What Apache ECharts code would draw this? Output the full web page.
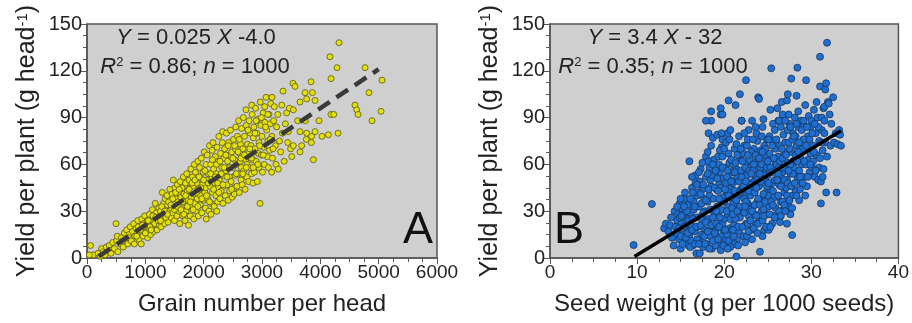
<!DOCTYPE html>
<html>
<head>
<meta charset="utf-8">
<script src="https://cdn.jsdelivr.net/npm/echarts@6/dist/echarts.min.js"></script>
<style>
  html, body { margin: 0; padding: 0; background: #fff; }
  #main { width: 912px; height: 323px; }
</style>
</head>
<body>
<div id="main"></div>
<script>
// panel A: grain number per head vs yield per plant
const grainYield = [
  [110,2],[60,8],[40,2],[190,3],[230,1],[250,6],[280,4],[330,7],[310,2],
  [380,8],[420,5],[440,10],[410,3],[470,6],[497,22],[510,11],[530,4],[520,14],
  [570,9],[590,13],[620,7],[640,16],[610,11],[660,12],[680,18],[700,9],[720,15],[740,20],[710,13],
  [760,11],[780,17],[800,22],[820,14],[840,19],[810,9],
  [860,16],[870,24],[890,12],[910,20],[930,9],[940,25],[920,18],
  [960,14],[970,22],[990,27],[1010,17],[1030,24],[1040,13],[1020,20],
  [1060,19],[1070,28],[1090,15],[1110,24],[1120,31],[1130,21],[1140,17],[1150,26],
  [1160,22],[1170,35],[1190,29],[1200,18],[1210,25],[1230,32],[1240,21],[1250,27],
  [1260,30],[1270,20],[1290,42],[1300,25],[1310,35],[1320,28],[1330,22],[1340,38],[1350,31],
  [1360,27],[1370,40],[1380,34],[1390,23],[1410,30],[1420,44],[1430,37],[1440,26],[1450,32],
  [1460,41],[1470,29],[1480,50],[1490,35],[1500,24],[1510,45],[1520,38],[1530,31],[1540,27],[1550,47],
  [1560,36],[1570,42],[1580,30],[1590,22],[1600,49],[1610,39],[1620,33],[1630,45],[1640,27],[1650,52],
  [1660,41],[1670,35],[1680,24],[1690,48],[1700,30],[1710,54],[1720,43],[1730,37],[1740,21],[1750,50],[1745,33],
  [1760,45],[1770,27],[1780,57],[1790,39],[1800,33],[1810,52],[1820,46],[1830,25],[1840,60],[1850,41],[1845,35],
  [1860,55],[1870,30],[1880,48],[1890,38],[1900,62],[1910,27],[1920,44],[1930,58],[1940,34],[1950,51],[1945,40],
  [1960,64],[1970,29],[1980,47],[1990,55],[2000,37],[2010,68],[2020,42],[2030,32],[2040,60],[2050,50],[2045,25],[2035,45],
  [2060,66],[2070,38],[2080,54],[2090,30],[2100,72],[2110,46],[2120,60],[2130,35],[2140,52],[2150,42],[2145,69],[2125,28],
  [2160,74],[2170,57],[2180,33],[2190,48],[2200,65],[2210,40],[2220,54],[2230,71],[2240,36],[2250,62],[2245,45],[2225,30],
  [2260,78],[2270,50],[2280,38],[2290,67],[2300,43],[2310,58],[2320,74],[2330,35],[2340,53],[2350,64],[2345,46],[2325,81],
  [2360,70],[2370,40],[2380,56],[2390,80],[2400,47],[2410,62],[2420,37],[2430,74],[2440,52],[2450,66],[2445,43],[2425,58],
  [2460,82],[2470,49],[2480,68],[2490,39],[2500,58],[2510,76],[2520,45],[2530,63],[2540,53],[2550,84],[2545,70],[2525,41],
  [2560,60],[2570,46],[2580,78],[2590,54],[2600,88],[2610,42],[2620,67],[2630,73],[2640,50],[2650,83],[2645,58],[2625,62],
  [2660,47],[2670,70],[2680,90],[2690,56],[2700,78],[2710,44],[2720,63],[2730,85],[2740,52],[2750,73],[2745,60],[2725,95],
  [2760,67],[2770,49],[2780,88],[2790,58],[2800,80],[2810,72],[2820,54],[2830,92],[2840,63],[2850,77],[2845,48],[2825,98],
  [2860,84],[2870,55],[2880,70],[2890,96],[2900,62],[2910,80],[2920,49],[2930,89],[2940,67],[2950,74],[2945,58],[2966,35],
  [2970,100],[2980,85],[2990,66],[3000,78],[3010,55],[3020,93],[3030,71],[3040,60],[3050,87],[3045,97],
  [3070,103],[3080,82],[3090,65],[3100,75],[3110,58],[3120,92],[3130,69],[3140,86],[3150,99],
  [3166,55],[3170,78],[3180,64],[3200,88],[3210,97],[3230,72],[3240,60],[3250,84],[3171,103],
  [3270,92],[3280,57],[3300,75],[3320,68],[3340,98],[3350,80],[3360,107],
  [3380,62],[3400,86],[3423,93],[3440,74],[3451,81],[3470,96],[3490,70],
  [3509,65],[3537,72],[3537,95],[3531,112],[3566,110],[3611,88],[3651,100],[3651,81],[3651,68],
  [3680,72],[3737,106],[3743,88],[3760,76],[3766,102],[3766,80],[3846,74],[3840,113],[3851,78],
  [3863,106],[3880,63],[3909,101],[3909,81],[3977,88],[4029,78],[4137,79],[4166,129],[4183,115],
  [4183,92],[4230,92],[4286,122],[4303,80],[4320,138],[4594,98],[4623,95],[4646,92],[4766,122],
  [4834,106],[4886,88],[5040,94],[5057,114],
  [850,14],[880,20],[950,21],[1000,16],[1050,24],[1080,20],[1100,18],[1130,27],[1180,26],[1220,24],
  [1260,24],[1280,33],[1330,30],[1350,26],[1380,28],[1400,36],[1440,34],[1470,38],[1500,31],[1520,42],
  [1550,33],[1580,44],[1610,31],[1640,36],[1660,28],[1690,40],[1720,33],[1750,44],[1770,36],[1800,48],
  [1820,31],[1850,50],[1880,42],[1900,33],[1920,52],[1950,45],[1970,38],[2000,50],[2020,56],[2050,40],
  [2080,48],[2100,36],[2120,54],[2150,63],[2170,44],[2200,52],[2220,60],[2240,48],[2260,42],[2280,62],
  [2300,54],[2330,47],[2350,58],[2380,66],[2400,52],[2420,72],[2450,58],[2480,44],[2500,64],[2530,72],
  [2560,54],[2590,68],[2610,76],[2640,64],[2670,54],[2700,66],[2730,58],[2760,82],[2790,70],[2820,64],
  [2850,58],[2880,80],[2900,88],[2930,60],[2960,72],[2990,90],[3020,66],[3060,84],[3100,92],[3140,76],[3190,70]
];

// panel B: seed weight vs yield per plant
const seedYield = [
  [9.6,8.3],[11.7,34.6],[13.1,19],[13.3,22],[13.6,17],[13.9,26],[14.0,13],[13.8,21],
  [14.2,8],[14.3,30],[14.5,16],[14.6,24],[14.8,12],[14.9,35],[14.4,20],[14.7,28],
  [15.0,6],[15.1,22],[15.2,31],[15.3,15],[15.4,38],[15.5,10],[15.6,26],[15.7,19],[15.8,34],[15.9,8],[15.5,42],[15.3,28],
  [16.0,62],[16.0,14],[16.1,29],[16.2,21],[16.3,45],[16.4,8],[16.5,36],[16.6,17],[16.7,53],[16.8,3],[16.8,26],[16.9,40],[16.5,31],[16.2,11],[16.7,48],
  [17.0,20],[17.1,33],[17.2,12],[17.3,57],[17.4,27],[17.5,44],[17.6,7],[17.7,38],[17.8,18],[17.9,65],[17.2,49],[17.5,24],[17.8,30],[17.4,15],[17.9,52],[17.0,42],
  [18.0,9],[18.1,36],[18.2,80],[18.2,25],[18.3,58],[18.4,14],[18.5,46],[18.5,88],[18.6,31],[18.7,77],[18.8,20],[18.9,54],[18.3,40],[18.6,6],[18.9,28],[18.1,68],[18.4,50],[18.8,63],
  [19.0,17],[19.1,44],[19.2,79],[19.3,29],[19.4,60],[19.5,10],[19.6,37],[19.6,92],[19.7,71],[19.8,22],[19.9,51],[19.2,33],[19.5,55],[19.8,76],[19.0,8],[19.3,65],[19.7,14],[19.4,47],[19.9,39],
  [20.0,25],[20.1,58],[20.5,101],[20.2,12],[20.3,42],[20.4,80],[20.5,33],[20.5,67],[20.6,19],[20.7,50],[20.8,9],[20.9,38],[20.2,74],[20.4,28],[20.6,61],[20.8,45],[20.3,15],[20.9,55],[20.0,36],[20.7,82],
  [21.0,48],[21.1,21],[21.2,70],[21.3,98],[21.3,31],[21.4,57],[21.4,1],[21.5,12],[21.6,40],[21.7,78],[21.8,105],[21.8,26],[21.9,63],[21.1,35],[21.5,52],[21.7,17],[21.9,44],[21.2,9],[21.6,66],[21.0,60],
  [22.0,88],[22.0,30],[22.1,55],[22.2,14],[22.3,72],[22.4,41],[22.5,114],[22.5,22],[22.6,61],[22.7,35],[22.8,82],[22.9,48],[22.2,67],[22.4,10],[22.6,53],[22.8,27],[22.1,44],[22.9,63],[22.3,38],[22.7,76],
  [23.0,58],[23.1,18],[23.2,88],[23.3,44],[23.4,70],[23.5,28],[23.6,52],[23.7,80],[23.8,36],[23.9,64],[23.9,103],[23.2,12],[23.4,49],[23.6,22],[23.8,75],[23.0,40],[23.5,61],[23.3,33],[23.7,57],[23.1,68],
  [24.0,102],[24.0,46],[24.1,24],[24.1,4],[24.2,69],[24.3,37],[24.4,84],[24.5,55],[24.6,18],[24.7,63],[24.8,42],[24.9,76],[24.3,30],[24.5,89],[24.7,50],[24.9,28],[24.2,58],[24.6,72],[24.4,14],[24.8,66],
  [25.0,53],[25.1,33],[25.2,78],[25.3,44],[25.4,121.6],[25.4,64],[25.5,22],[25.6,86],[25.7,57],[25.8,39],[25.9,70],[25.1,18],[25.3,95],[25.5,48],[25.7,27],[25.9,61],[25.2,67],[25.6,74],[25.0,40],[25.8,82],
  [26.0,60],[26.1,26],[26.2,88],[26.3,47],[26.4,72],[26.5,36],[26.6,100],[26.7,55],[26.8,79],[26.9,42],[26.2,65],[26.4,23],[26.6,51],[26.8,31],[26.1,96],[26.5,84],[26.9,68],[26.3,58],[26.7,92],
  [27.0,74],[27.1,45],[27.2,101],[27.3,61],[27.3,105],[27.4,33],[27.5,86],[27.6,54],[27.7,115],[27.7,68],[27.8,40],[27.8,14.7],[27.9,80],[27.2,50],[27.4,92],[27.6,28],[27.9,62],[27.1,57],[27.5,70],[27.3,82],
  [28.0,58],[28.1,90],[28.2,43],[28.3,104],[28.3,72],[28.4,122],[28.4,52],[28.5,84],[28.6,37],[28.7,65],[28.8,88],[28.9,48],[28.2,78],[28.6,56],[28.8,70],[28.5,94],[28.1,63],[28.9,60],
  [29.0,70],[29.1,52],[29.2,85],[29.3,98],[29.4,114],[29.4,60],[29.5,46],[29.6,78],[29.7,91],[29.8,55],[29.9,67],[29.3,40],[29.6,63],[29.9,84],[29.1,76],
  [30.0,88],[30.1,58],[30.2,72],[30.3,95],[30.4,52],[30.5,80],[30.6,66],[30.7,90],[30.8,50],[30.9,75],[30.2,62],[30.6,100],[30.9,58],
  [31.0,129],[31.0,110],[31.1,49],[31.1,35],[31.2,82],[31.3,69],[31.4,96],[31.5,97],[31.6,108],[31.7,42],[31.7,112],[31.8,138],[31.9,100],[31.4,57],[31.6,74],[31.2,90],[31.8,65],[31.5,88],
  [32.0,99],[32.2,72],[32.5,103],[32.6,74],[32.8,80],[32.9,42],[32.3,86],[33.0,73],[33.2,82],[33.4,72],[33.3,79],
  [17.9,88],[18.5,94],[19.6,96],[19.8,92],[22.0,88],
  [14.6,33],[14.8,19],[14.9,26],[15.0,14],[15.0,38],
  [15.2,9],[15.4,20],[15.6,13],[15.7,30],[15.9,24],[15.8,16],[15.4,33],[15.1,27],
  [16.1,7],[16.3,18],[16.4,25],[16.6,33],[16.9,12],[16.1,38],[16.4,42],[16.8,20],[16.9,47],[16.3,52],[16.6,9],
  [17.1,9],[17.3,21],[17.4,35],[17.6,29],[17.7,14],[17.9,23],[17.3,41],[17.6,47],[17.8,9],[17.1,55],[17.5,61],[17.9,37],[17.2,3],
  [18.1,17],[18.2,44],[18.4,31],[18.5,21],[18.7,11],[18.8,38],[18.9,45],[18.3,6],[18.6,53],[18.7,26],[18.2,62],[18.5,72],[18.9,16],[18.1,54],[18.7,60],
  [19.1,22],[19.2,51],[19.3,12],[19.4,38],[19.5,26],[19.6,45],[19.7,31],[19.8,58],[19.9,18],[19.0,56],[19.3,43],[19.5,69],[19.6,5],[19.8,65],[19.1,30],[19.9,8],[19.4,20],[19.7,80],
  [20.1,18],[20.2,48],[20.3,30],[20.4,56],[20.5,11],[20.6,42],[20.7,25],[20.8,63],[20.9,18],[20.0,70],[20.3,52],[20.5,40],[20.7,7],[20.9,32],[20.1,44],[20.6,76],[20.4,6],[20.8,49],
  [21.1,14],[21.2,43],[21.3,25],[21.4,37],[21.5,66],[21.6,20],[21.7,49],[21.8,33],[21.9,56],[21.0,28],[21.2,55],[21.4,73],[21.6,8],[21.8,42],[21.0,18],[21.5,30],[21.9,70],[21.3,61],
  [22.1,20],[22.2,46],[22.3,29],[22.4,58],[22.5,36],[22.6,14],[22.7,66],[22.8,43],[22.9,31],[22.0,52],[22.3,80],[22.5,49],[22.7,22],[22.9,56],[22.1,62],[22.4,33],[22.6,72],[22.8,17],
  [23.1,47],[23.2,30],[23.3,56],[23.4,19],[23.5,42],[23.6,66],[23.7,27],[23.8,50],[23.9,38],[23.0,24],[23.3,76],[23.5,34],[23.7,45],[23.9,22],[23.1,54],[23.6,84],[23.4,60],[23.8,16],
  [24.1,34],[24.2,49],[24.3,60],[24.4,24],[24.5,41],[24.6,53],[24.7,36],[24.8,20],[24.9,58],[24.0,64],[24.3,78],[24.5,31],[24.7,70],[24.9,46],[24.1,54],[24.6,27],[24.4,68],
  [25.1,48],[25.2,28],[25.3,58],[25.4,36],[25.5,72],[25.6,43],[25.7,64],[25.8,50],[25.9,32],[25.0,62],[25.3,20],[25.5,55],[25.8,26],[25.1,76],[25.6,34],
  [26.1,50],[26.2,40],[26.3,30],[26.4,62],[26.5,46],[26.6,70],[26.7,36],[26.8,58],[26.9,50],[26.0,76],[26.3,88],[26.5,27],[26.7,64],[26.9,34],[26.2,54],
  [27.1,66],[27.2,40],[27.3,48],[27.4,74],[27.5,37],[27.6,60],[27.7,46],[27.8,76],[27.9,54],[27.0,88],[27.4,56],[27.6,84],[27.8,32],[27.2,22],[27.0,30],
  [28.1,48],[28.2,66],[28.3,40],[28.4,62],[28.6,74],[28.7,52],[28.9,82],[28.3,86],[28.7,44],[28.0,78],[28.5,68],
  [29.2,62],[29.4,72],[29.6,52],[29.8,76],[29.1,88],[29.5,84],[29.9,60],[29.0,48],
  [30.3,68],[30.5,56],[30.8,84],[31.0,64],[31.2,74],[31.5,80],[30.1,80],[31.3,52],[32.1,92],[30.4,86]
];

// fitted lines, end points
const grainFit = [[200, 1], [5000, 121]];
const seedFit = [[9.7, 1], [33.4, 81.6]];

const FONT = '"Liberation Sans", Arial, sans-serif';

const chart = echarts.init(document.getElementById('main'));

function yAxisOpt(idx) {
  return {
    gridIndex: idx,
    type: 'value',
    min: 0,
    max: 150,
    interval: 30,
    name: '{a|Yield per plant (g head}{s|-1}{a|)}',
    nameLocation: 'middle',
    nameGap: 47,
    nameTextStyle: {
      color: '#222',
      fontFamily: FONT,
      rich: {
        a: { fontSize: 25, fontFamily: FONT, color: '#222' },
        s: { fontSize: 15, fontFamily: FONT, color: '#222', verticalAlign: 'top' }
      }
    },
    axisLine: { show: true, lineStyle: { color: '#555', width: 1.5 } },
    axisTick: { show: true, length: 6, lineStyle: { color: '#555' } },
    minorTick: { show: true, splitNumber: 4, length: 4, lineStyle: { color: '#555' } },
    splitLine: { show: false },
    axisLabel: { color: '#222', fontSize: 20, fontFamily: FONT, margin: 5 }
  };
}

function xAxisOpt(idx, max, interval, name) {
  return {
    gridIndex: idx,
    type: 'value',
    min: 0,
    max: max,
    interval: interval,
    name: name,
    nameLocation: 'middle',
    nameGap: 34,
    nameTextStyle: { color: '#222', fontSize: 24, fontFamily: FONT },
    axisLine: { show: true, onZero: false, lineStyle: { color: '#555', width: 1.5 } },
    axisTick: { show: true, length: 6, lineStyle: { color: '#555' } },
    minorTick: { show: true, splitNumber: 4, length: 4, lineStyle: { color: '#555' } },
    splitLine: { show: false },
    axisLabel: { color: '#222', fontSize: 19, fontFamily: FONT, margin: 5, formatter: (v) => String(v) }
  };
}

const richFit = {
  i: { fontStyle: 'italic', fontSize: 22, fontFamily: FONT, fill: '#222' },
  s: { fontSize: 13, fontFamily: FONT, fill: '#222', verticalAlign: 'top' },
  t: { fontSize: 22, fontFamily: FONT, fill: '#222' }
};

function label(x, y, text) {
  return {
    type: 'text',
    x: x, y: y,
    z: 10,
    style: {
      text: text,
      rich: richFit,
      align: 'center',
      verticalAlign: 'middle',
      fontSize: 22,
      fontFamily: FONT,
      fill: '#222'
    }
  };
}

const option = {
  animation: false,
  backgroundColor: '#fff',
  grid: [
    { left: 87, right: 475, top: 24, bottom: 65, show: true, backgroundColor: '#cfcfcf', borderColor: '#555', borderWidth: 1.5 },
    { left: 550, right: 11, top: 24, bottom: 65, show: true, backgroundColor: '#cfcfcf', borderColor: '#555', borderWidth: 1.5 }
  ],
  xAxis: [
    xAxisOpt(0, 6000, 1000, 'Grain number per head'),
    xAxisOpt(1, 40, 10, 'Seed weight (g per 1000 seeds)')
  ],
  yAxis: [yAxisOpt(0), yAxisOpt(1)],
  graphic: [
    label(196, 38, '{i|Y}{t| = 0.025 }{i|X}{t| -4.0}'),
    label(195, 67, '{i|R}{s|2}{t| = 0.86; }{i|n}{t| = 1000}'),
    label(655, 38, '{i|Y}{t| = 3.4 }{i|X}{t| - 32}'),
    label(653, 67, '{i|R}{s|2}{t| = 0.35; }{i|n}{t| = 1000}'),
    { type: 'text', right: 912 - 433, bottom: 323 - 253, z: 10,
      style: { text: 'A', fontSize: 45, fontFamily: FONT, fill: '#111' } },
    { type: 'text', left: 554, bottom: 323 - 253, z: 10,
      style: { text: 'B', fontSize: 45, fontFamily: FONT, fill: '#111' } }
  ],
  series: [
    {
      type: 'scatter',
      xAxisIndex: 0, yAxisIndex: 0,
      data: grainYield,
      symbolSize: 6,
      itemStyle: { color: '#e4e000', borderColor: '#55551c', borderWidth: 0.8, opacity: 1 }
    },
    {
      type: 'line',
      xAxisIndex: 0, yAxisIndex: 0,
      data: grainFit,
      symbol: 'none',
      z: 5,
      lineStyle: { color: '#3a3a3a', width: 4.5, type: [14, 8] }
    },
    {
      type: 'scatter',
      xAxisIndex: 1, yAxisIndex: 1,
      data: seedYield,
      symbolSize: 7,
      itemStyle: { color: '#1f6fd0', borderColor: '#17355e', borderWidth: 0.8, opacity: 1 }
    },
    {
      type: 'line',
      xAxisIndex: 1, yAxisIndex: 1,
      data: seedFit,
      symbol: 'none',
      z: 5,
      lineStyle: { color: '#000', width: 3.5 }
    }
  ]
};

chart.setOption(option);
</script>
</body>
</html>
